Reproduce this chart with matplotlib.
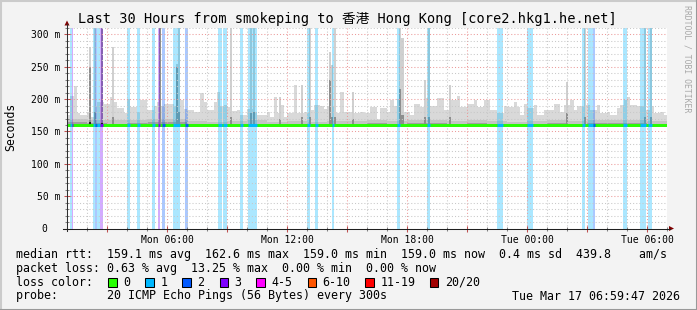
import numpy as np
import matplotlib.pyplot as plt
from matplotlib.patches import Rectangle, Polygon
from matplotlib.lines import Line2D

W, H = 697, 310

# x axis: hours since Mon 01:00, 30 hour window
tick_hours = [5, 11, 17, 23, 29]
tick_labels = ['Mon 06:00', 'Mon 12:00', 'Mon 18:00', 'Tue 00:00', 'Tue 06:00']

# smoke envelope (max ping, ms) for each 10 min slot
smoke_top = [175, 205, 220, 178, 175, 176, 180, 173, 190, 195,
             195, 193, 193, 203, 196, 186, 186, 178, 200, 188,
             188, 180, 199, 199, 183, 183, 190, 195, 190, 193,
             193, 193, 190, 199, 199, 185, 183, 183, 180, 180,
             209, 195, 183, 183, 196, 211, 190, 191, 188, 181,
             181, 183, 175, 175, 185, 185, 180, 175, 175, 175,
             180, 172, 204, 178, 191, 172, 178, 178, 222, 178,
             178, 180, 178, 183, 191, 191, 190, 185, 189, 189,
             178, 178, 211, 180, 180, 180, 178, 178, 180, 178,
             178, 188, 188, 170, 186, 186, 180, 199, 190, 200,
             190, 180, 180, 175, 193, 193, 188, 201, 201, 190,
             190, 201, 201, 183, 183, 199, 199, 205, 188, 188,
             193, 193, 199, 188, 188, 199, 199, 183, 183, 178,
             178, 190, 188, 188, 195, 188, 175, 193, 186, 186,
             191, 175, 175, 183, 183, 183, 193, 193, 180, 191,
             191, 199, 183, 190, 190, 191, 191, 183, 183, 191,
             178, 178, 180, 175, 175, 186, 191, 199, 203, 191,
             191, 190, 190, 183, 183, 189, 178, 178, 180, 176]
# denser inner smoke, per hour
smoke_mid = [170, 168, 167, 168, 169, 170, 166, 165, 166, 167,
             165, 166, 165, 166, 166, 167, 166, 167, 168, 166,
             167, 166, 165, 166, 167, 166, 167, 168, 167, 166]
smoke_dark = [164, 163, 162, 163, 164, 165, 162, 161.5, 162, 162,
              161.5, 162, 161.5, 162, 162, 162.5, 162, 162.5, 163, 162,
              162.5, 162, 161.5, 162, 162.5, 162, 162.5, 163, 162.5, 162]

# single 5 min spikes: hour, max ping, dense core top
spike_hours = [1.10, 1.35, 1.70, 2.25, 4.58, 5.45, 5.55, 8.15, 9.15, 9.30,
               10.60, 11.70, 12.08, 13.10, 13.20, 13.33, 14.25, 16.60, 16.72,
               17.85, 18.05, 19.10, 24.95, 25.85, 28.85, 29.15]
spike_top = [280, 320, 320, 281, 320, 255, 320, 320, 320, 320,
             204, 222, 320, 273, 253, 320, 211, 320, 295,
             230, 320, 222, 227, 320, 320, 320]
spike_core = [250, 180, 320, 172, 320, 250, 180, 172, 178, 180,
              170, 172, 172, 230, 172, 172, 170, 215, 175,
              172, 172, 172, 178, 172, 172, 172]

# packet loss bands: start hour, end hour, lost pings of 20
loss_start = [0.15, 0.23, 1.32, 1.40, 1.52, 1.67, 2.98, 3.48, 4.27, 4.53,
              4.77, 5.32, 5.90, 7.53, 7.82, 8.65, 9.03, 11.98, 12.40, 13.23,
              16.48, 17.98, 21.52, 22.98, 25.73, 26.03, 26.28, 27.78, 28.65, 29.03]
loss_end = [0.23, 0.30, 1.40, 1.52, 1.67, 1.80, 3.15, 3.65, 4.40, 4.65,
            4.90, 5.65, 6.03, 7.73, 7.98, 8.78, 9.48, 12.15, 12.53, 13.37,
            16.65, 18.15, 21.78, 23.28, 25.90, 26.28, 26.40, 27.98, 28.95, 29.23]
loss_count = [1, 3, 1, 2, 1, 3, 1, 1, 1, 3,
              2, 1, 2, 1, 1, 1, 1, 1, 1, 1,
              1, 1, 1, 1, 1, 1, 2, 1, 1, 1]

median_rtt = 159.6
bump_hours = [1.10, 1.70]
bump_values = [162.6, 161.0]

loss_names = ['0', '1', '2', '3', '4-5', '6-10', '11-19', '20/20']
loss_colors = ['#26ff00', '#00b8ff', '#0059ff', '#7e00ff', '#ff00ff',
               '#ff5500', '#ff0000', '#a10000']


def loss_color(n):
    if n == 0:
        return loss_colors[0]
    if n <= 3:
        return loss_colors[n]
    if n <= 5:
        return loss_colors[4]
    if n <= 10:
        return loss_colors[5]
    if n < 20:
        return loss_colors[6]
    return loss_colors[7]


def fx(x):
    return x / W


def fy(y):
    return 1 - y / H


MONO = 'DejaVu Sans Mono'

fig = plt.figure(figsize=(6.97, 3.10), dpi=100)
fig.patch.set_facecolor('#f3f3f3')

ax = fig.add_axes([fx(67), fy(228.5), 600 / W, 200.5 / H])
ax.set_facecolor('white')
ax.set_xlim(0, 30)
ax.set_ylim(0, 310)
for s in ax.spines.values():
    s.set_visible(False)

# smoke
edges10 = np.arange(len(smoke_top) + 1) / 6.0
ax.fill_between(edges10, 157.5, smoke_top + [smoke_top[-1]], step='post',
                color='#d9d9d9', lw=0, zorder=1)
edges60 = np.arange(len(smoke_mid) + 1)
ax.fill_between(edges60, 157.5, smoke_mid + [smoke_mid[-1]], step='post',
                color='#c4c4c4', lw=0, zorder=1.1)
ax.fill_between(edges60, 157.5, smoke_dark + [smoke_dark[-1]], step='post',
                color='#a0a0a0', lw=0, zorder=1.2)
sh = np.array(spike_hours)
ax.bar(sh, np.array(spike_top) - 157.5, bottom=157.5, width=0.12,
       color='#d0d0d0', lw=0, align='edge', zorder=1.3)
ax.bar(sh, np.array(spike_core) - 157.5, bottom=157.5, width=0.12,
       color='#8e8e8e', lw=0, align='edge', zorder=1.4)

# loss background
for s, e, n in zip(loss_start, loss_end, loss_count):
    ax.axvspan(s, e, color=loss_color(n), alpha=0.33, lw=0, zorder=1.5)

# grid
ax.set_xticks(np.arange(2, 30, 3))
ax.set_xticks(np.arange(0, 31, 1), minor=True)
ax.set_xticklabels([tick_labels[tick_hours.index(h)] if h in tick_hours else ''
                    for h in np.arange(2, 30, 3)])
ax.set_yticks(np.arange(0, 301, 50))
ax.set_yticks(np.arange(0, 311, 10), minor=True)
ax.set_yticklabels(['0  '] + ['%d m' % v for v in range(50, 301, 50)])
ax.grid(which='minor', color='#c8c8c8', linestyle=(0, (1, 2)), lw=0.75, zorder=2)
ax.grid(which='major', color='#ec9a9a', linestyle=(0, (1, 2)), lw=0.75, zorder=2.1)
ax.set_axisbelow(False)
ax.tick_params(which='both', direction='inout', labelsize=7, pad=3)
ax.tick_params(which='major', length=4, color='#c05050', width=0.75)
ax.tick_params(which='minor', length=3, color='#808080', width=0.75)
for lab in ax.get_xticklabels() + ax.get_yticklabels():
    lab.set_family(MONO)

# median line
ax.plot([0, 30], [median_rtt, median_rtt], color=loss_colors[0], lw=2.1,
        solid_capstyle='butt', zorder=3)
for h, v in zip(bump_hours, bump_values):
    ax.plot([h, h + 1 / 12], [v, v], color='#202020', lw=1.5,
            solid_capstyle='butt', zorder=3.1)
for s, e, n in zip(loss_start, loss_end, loss_count):
    ax.plot([s, e], [median_rtt, median_rtt], color=loss_color(n), lw=2.1,
            solid_capstyle='butt', zorder=3.2)

# axis lines and arrows
fig.add_artist(Line2D([fx(67), fx(67)], [fy(231), fy(24)], color='#303030', lw=0.75))
fig.add_artist(Line2D([fx(63), fx(670)], [fy(228.5), fy(228.5)], color='#202020', lw=0.75))
fig.add_artist(Polygon([(fx(64.5), fy(25.5)), (fx(69.5), fy(25.5)), (fx(67), fy(20.5))],
                       closed=True, color='#7f0000', lw=0))
fig.add_artist(Polygon([(fx(669), fy(226)), (fx(669), fy(231)), (fx(674), fy(228.5))],
                       closed=True, color='#7f0000', lw=0))

# frame
fig.add_artist(Line2D([0, 1], [fy(0.5), fy(0.5)], color='#cbcbcb', lw=1.5))
fig.add_artist(Line2D([fx(0.5), fx(0.5)], [0, 1], color='#cbcbcb', lw=1.5))
fig.add_artist(Line2D([0, 1], [fy(309.5), fy(309.5)], color='#999999', lw=1.5))
fig.add_artist(Line2D([fx(696.5), fx(696.5)], [0, 1], color='#999999', lw=1.5))

# texts
fig.text(fx(347), fy(19), 'Last 30 Hours from smokeping to 香港 Hong Kong [core2.hkg1.he.net]',
         fontsize=9.8, family=[MONO, 'Noto Sans CJK TC'], ha='center', va='center')
fig.text(fx(10.5), fy(127), 'Seconds', rotation=90, fontsize=8.3, family=MONO,
         ha='center', va='center')
fig.text(fx(686.5), fy(59), 'RRDTOOL / TOBI OETIKER', rotation=-90, fontsize=5.9,
         family=MONO, color='#a8a8a8', ha='center', va='center')

fs = 8.4
fig.text(fx(15.6), fy(254.3),
         'median rtt:  159.1 ms avg  162.6 ms max  159.0 ms min  159.0 ms now  0.4 ms sd  439.8    am/s',
         fontsize=fs, family=MONO, ha='left', va='center')
fig.text(fx(15.6), fy(268.3),
         'packet loss: 0.63 % avg  13.25 % max  0.00 % min  0.00 % now',
         fontsize=fs, family=MONO, ha='left', va='center')
fig.text(fx(15.6), fy(282.3), 'loss color:', fontsize=fs, family=MONO,
         ha='left', va='center')
box_x = [108, 145.3, 182.2, 219.6, 256.4, 307.6, 365.3, 429.8]
for bx, name, c in zip(box_x, loss_names, loss_colors):
    fig.add_artist(Rectangle((fx(bx), fy(287)), 8.5 / W, 9.5 / H, facecolor=c,
                             edgecolor='black', lw=0.75))
    fig.text(fx(bx + 15), fy(282.3), name, fontsize=fs, family=MONO,
             ha='left', va='center')
fig.text(fx(15.6), fy(296), 'probe:       20 ICMP Echo Pings (56 Bytes) every 300s',
         fontsize=fs, family=MONO, ha='left', va='center')
fig.text(fx(680), fy(296), 'Tue Mar 17 06:59:47 2026', fontsize=fs, family=MONO,
         ha='right', va='center')

fig.savefig('out.png', dpi=100, facecolor=fig.get_facecolor())
